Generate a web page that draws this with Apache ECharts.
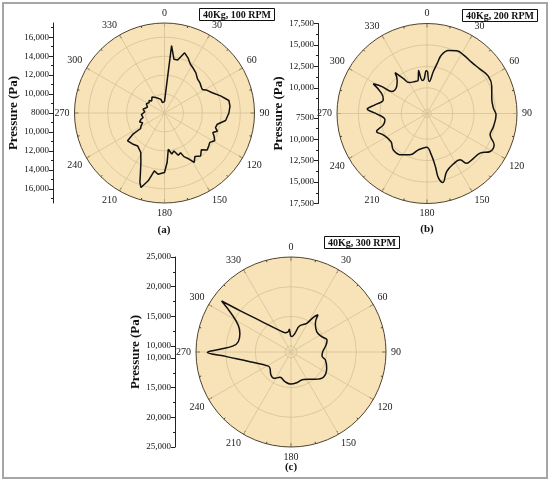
<!DOCTYPE html>
<html>
<head>
<meta charset="utf-8">
<script src="https://cdn.jsdelivr.net/npm/echarts@6/dist/echarts.min.js"></script>
<style>
  html, body { margin: 0; padding: 0; background: #fff; }
  #pressure-polar { width: 550px; height: 484px; }
</style>
</head>
<body>
<div id="pressure-polar"></div>
<script>
// values: angle (deg, clockwise from top) and pressure (Pa)
var angle100 = [0, 3, 6, 10, 14, 18.5, 23, 28, 33, 38, 44, 50, 55, 58, 62, 67, 73, 79, 84, 90,
  97, 102, 106, 109, 112, 115, 119, 123, 126, 131, 135, 140, 145, 149, 152, 156, 158, 162, 166, 170,
  174, 177, 180, 186, 190, 193.5, 197.5, 199.5, 202, 205.5, 211, 219, 226, 233, 236, 237, 241, 246,
  250, 255, 258, 262, 266, 270, 273, 276, 280, 285, 289, 293, 297, 300, 304, 309, 313, 318, 322,
  326, 330, 333, 336, 340, 345, 349, 355];
var pressure100 = [9200, 9350, 15150, 13750, 13760, 14700, 14330, 13830, 13600, 13380, 13010, 12900, 12750, 12700, 13100, 13480, 14190, 14920, 14950, 14800,
  14500, 13700, 13600, 13900, 13500, 13770, 14060, 13700, 13800, 13970, 13500, 13930, 13600, 14090, 13500, 13040, 12520, 12700, 12130, 12400,
  11850, 13230, 14280, 14500, 14200, 15360, 16250, 15780, 14780, 13790, 12860, 12490, 12700, 12880, 12050, 11000, 10840, 10530,
  10800, 10580, 10300, 10160, 10450, 10490, 10100, 9980, 10300, 10150, 9900, 9870, 10150, 10000, 9950, 10100, 9850, 9910, 10150,
  10140, 9900, 10000, 9700, 9800, 9490, 9110, 9200];

var angle200 = [0.9, 4.2, 8.6, 11.6, 14, 18.7, 25.3, 31.8, 41.2, 50.1, 58.9, 67.3, 76.7, 85.4, 91.1, 101, 108.7, 115, 121, 126.8,
  136, 141.4, 144.5, 152.4, 161.3, 167, 170, 171, 174, 180.6, 193.4, 202.4, 211.5, 222.8, 232, 244, 250.3, 255.4, 261.4, 269.6,
  274.2, 279.5, 287.4, 294, 298.9, 300.8, 301.9, 311.7, 318, 322, 326, 330, 339.4, 345, 349, 352, 355, 359];
var pressure200 = [11900, 10740, 11950, 13000, 14060, 14770, 15100, 15060, 14920, 15070, 15370, 15190, 14760, 14770, 15060, 14900, 14770, 15640, 15600, 14730,
  14520, 14430, 13640, 13640, 14150, 15260, 14600, 13300, 11860, 10930, 11360, 12220, 12660, 12790, 12330, 12680, 13250, 12260, 11960, 12880,
  13990, 13160, 12340, 12800, 14160, 13170, 11860, 11740, 12200, 13050, 11900, 11160, 10990, 11000, 12100, 10900, 11000, 12000];

var angle300 = [5, 12, 18, 28.7, 32.8, 36, 40.3, 51.6, 63.4, 71.6, 78.7, 89.4, 97.4, 103, 114.6, 128, 138.7, 155.7, 169.5, 180.6,
  191.4, 203.5, 212.8, 221, 232, 238, 256.7, 265.9, 269.8, 272.2, 276, 281, 290, 297, 302.6, 306.3, 309, 315.3, 332.7, 342.8,
  352.5, 355.8, 358.8];
var pressure300 = [11600, 12220, 13600, 14510, 15950, 16750, 15340, 14520, 14780, 15400, 15020, 14340, 14270, 14950, 15610, 15920, 15130, 14060, 14260, 14400,
  14100, 13660, 14280, 14140, 13490, 13490, 16100, 19870, 23100, 20970, 18780, 18050, 18160, 18980, 20880, 23500, 20070, 16430, 13050, 12410,
  12460, 12830, 11700];

// ring values on each polar plot
var rings100 = [10000, 12000, 14000, 16000];
var rings200 = [7500, 10000, 12500, 15000];
var rings300 = [10000, 15000, 20000];

// tick labels of the left "Pressure (Pa)" scales
var ticks100 = [8000, 10000, 12000, 14000, 16000];
var minor100 = [9000, 11000, 13000, 15000, 17000];
var ticks200 = [7500, 10000, 12500, 15000, 17500];
var minor200 = [8750, 11250, 13750, 16250];
var ticks300 = [10000, 15000, 20000, 25000];
var minor300 = [12500, 17500, 22500];

var FONT = "'Liberation Serif', 'DejaVu Serif', serif";

var panels = [
  { angles: angle100, values: pressure100, rings: rings100, ticks: ticks100, minor: minor100,
    min: 8000, max: 17500, center: [164.5, 113], radius: 90, axisX: 53, smooth: false,
    tag: '40Kg, 100 RPM', tagPos: [199, 8], letter: '(a)', letterPos: [164, 230] },
  { angles: angle200, values: pressure200, rings: rings200, ticks: ticks200, minor: minor200,
    min: 7000, max: 17500, center: [427, 113.5], radius: 90, axisX: 318, smooth: 0.4,
    tag: '40Kg, 200 RPM', tagPos: [462, 9], letter: '(b)', letterPos: [427, 229] },
  { angles: angle300, values: pressure300, rings: rings300, ticks: ticks300, minor: minor300,
    min: 9000, max: 25000, center: [291, 352], radius: 95, axisX: 175, smooth: 0.4,
    tag: '40Kg, 300 RPM', tagPos: [324, 236], letter: '(c)', letterPos: [291, 467] }
];

function mirror(list, base) {
  var out = [];
  for (var i = 0; i < list.length; i++) {
    var d = list[i] - base;
    out.push(d);
    if (d !== 0) out.push(-d);
  }
  return out;
}

function fmt(p) {
  p = Math.round(p);
  return p >= 10000 ? p.toLocaleString('en-US') : String(p);
}

var option = {
  backgroundColor: '#fff',
  animation: false,
  title: [],
  polar: [],
  angleAxis: [],
  radiusAxis: [],
  grid: [],
  xAxis: [],
  yAxis: [],
  series: [],
  graphic: [{
    type: 'rect',
    shape: { x: 3, y: 3, width: 544, height: 475 },
    style: { fill: 'none', stroke: '#a6a6a6', lineWidth: 2 }
  }]
};

panels.forEach(function (p, i) {
  var data = [];
  for (var k = 0; k < p.angles.length; k++) {
    data.push([p.values[k], p.angles[k]]);
  }
  data.push([p.values[0], p.angles[0]]);

  // tan disc behind the polar grid
  option.graphic.push({
    type: 'circle',
    z: -1,
    shape: { cx: p.center[0], cy: p.center[1], r: p.radius },
    style: { fill: '#f8e3b8' }
  });

  option.polar.push({ center: p.center, radius: p.radius });

  option.angleAxis.push({
    polarIndex: i,
    type: 'value',
    min: 0,
    max: 360,
    interval: 30,
    startAngle: 90,
    clockwise: true,
    axisLine: { lineStyle: { color: '#4f4330', width: 1 } },
    axisTick: { inside: true, length: 4, lineStyle: { color: '#4f4330' } },
    minorTick: { show: true, splitNumber: 2, length: 2, lineStyle: { color: '#4f4330' } },
    axisLabel: { margin: 5, color: '#1a1a1a', fontFamily: FONT, fontSize: 10 },
    splitLine: { show: true, lineStyle: { color: '#d6c197', width: 0.8 } },
    splitArea: { show: false }
  });

  option.radiusAxis.push({
    polarIndex: i,
    type: 'value',
    min: p.min,
    max: p.max,
    axisLine: { show: false },
    axisTick: { show: false, customValues: p.rings },
    axisLabel: { show: false, customValues: p.rings },
    splitLine: { show: true, lineStyle: { color: '#d6c197', width: 0.8 } }
  });

  option.series.push({
    type: 'line',
    coordinateSystem: 'polar',
    polarIndex: i,
    data: data,
    symbol: 'none',
    smooth: p.smooth,
    silent: true,
    lineStyle: { color: '#111', width: 1.5 }
  });

  // left pressure scale, mirrored about the pole
  var span = p.max - p.min;
  option.grid.push({
    left: p.axisX, top: p.center[1] - p.radius, width: 10, height: p.radius * 2,
    outerBoundsMode: 'none'
  });
  option.xAxis.push({ gridIndex: i, type: 'value', show: false, min: 0, max: 1 });
  var majors = mirror(p.ticks, p.min);
  option.yAxis.push({
    gridIndex: i,
    type: 'value',
    position: 'left',
    min: -span,
    max: span,
    name: 'Pressure (Pa)',
    nameLocation: 'middle',
    nameRotate: 90,
    nameGap: 30,
    nameTextStyle: { fontFamily: FONT, fontSize: 13, fontWeight: 'bold', color: '#111' },
    axisLine: { show: true, lineStyle: { color: '#222', width: 1 } },
    axisTick: { show: true, length: 4, customValues: majors, lineStyle: { color: '#222' } },
    axisLabel: {
      customValues: majors, margin: 4, color: '#111', fontFamily: FONT, fontSize: 9,
      formatter: function (v) { return fmt(Math.abs(v) + p.min); }
    },
    splitLine: { show: false }
  });
  option.yAxis.push({
    gridIndex: i,
    type: 'value',
    position: 'left',
    offset: 0,
    min: -span,
    max: span,
    axisLine: { show: false },
    axisTick: { show: true, length: 2, customValues: mirror(p.minor, p.min), lineStyle: { color: '#222' } },
    axisLabel: { show: false },
    splitLine: { show: false }
  });

  option.title.push({
    text: p.tag,
    left: p.tagPos[0],
    top: p.tagPos[1],
    padding: [2, 4, 1, 4],
    borderColor: '#111',
    borderWidth: 1,
    textStyle: { fontFamily: FONT, fontSize: 10, fontWeight: 'bold', color: '#111' }
  });

  option.graphic.push({
    type: 'text',
    x: p.letterPos[0],
    y: p.letterPos[1],
    style: {
      text: p.letter, fill: '#111', font: 'bold 11px ' + FONT,
      textAlign: 'center', textVerticalAlign: 'middle'
    }
  });
});

var chartDom = document.getElementById('pressure-polar');
var myChart = echarts.init(chartDom);
option && myChart.setOption(option);
</script>
</body>
</html>
